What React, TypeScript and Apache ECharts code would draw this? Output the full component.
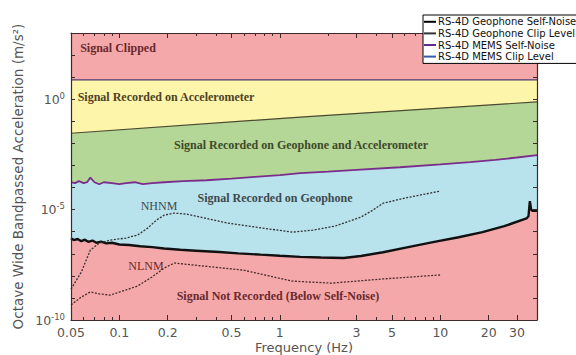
import React, { useEffect, useRef } from "react";
import * as echarts from "echarts";

// ---------- data (frequencies in Hz, levels as log10 of m/s^2) ----------
const geoNoiseFreq = [0.05, 0.052, 0.055, 0.058, 0.061, 0.064, 0.068, 0.072, 0.077, 0.083, 0.09, 0.1, 0.115, 0.135, 0.16, 0.19, 0.24, 0.3, 0.42, 0.55, 0.76, 1.0, 1.34, 1.8, 2.5, 3.2, 4.4, 6.3, 9.0, 13, 18.3, 25, 34.4, 35.4, 36.1, 36.8, 37.5, 40];
const geoNoiseLog10 = [-6.30, -6.38, -6.33, -6.43, -6.36, -6.46, -6.40, -6.50, -6.45, -6.53, -6.50, -6.58, -6.60, -6.66, -6.70, -6.76, -6.82, -6.86, -6.92, -6.98, -7.04, -7.09, -7.14, -7.17, -7.19, -7.10, -6.93, -6.70, -6.47, -6.25, -6.02, -5.75, -5.40, -5.30, -4.62, -5.0, -5.05, -5.05];

const geoClipFreq = [0.05, 1.34, 40];
const geoClipLog10 = [-1.54, -0.81, -0.12];

const memsNoiseFreq = [0.05, 0.053, 0.056, 0.06, 0.063, 0.066, 0.07, 0.075, 0.08, 0.09, 0.1, 0.11, 0.125, 0.14, 0.16, 0.19, 0.25, 0.35, 0.5, 0.7, 1.0, 1.34, 2.0, 3.0, 5.6, 10, 15.3, 22, 30, 40];
const memsNoiseLog10 = [-3.76, -3.80, -3.71, -3.80, -3.76, -3.55, -3.76, -3.85, -3.76, -3.80, -3.85, -3.80, -3.76, -3.85, -3.80, -3.76, -3.71, -3.67, -3.60, -3.52, -3.44, -3.35, -3.28, -3.20, -3.08, -2.95, -2.85, -2.75, -2.64, -2.53];

const memsClipFreq = [0.05, 40];
const memsClipLog10 = [0.88, 0.88];

const nhnmFreq = [0.05, 0.058, 0.066, 0.075, 0.088, 0.11, 0.13, 0.15, 0.17, 0.19, 0.22, 0.26, 0.32, 0.47, 0.7, 1.2, 1.6, 2.2, 3.2, 3.8, 4.4, 6.0, 10];
const nhnmLog10 = [-8.6, -7.83, -6.83, -6.52, -6.38, -6.29, -6.15, -5.84, -5.48, -5.25, -5.16, -5.20, -5.34, -5.61, -5.79, -6.02, -5.93, -5.75, -5.34, -5.02, -4.71, -4.48, -4.16];

const nlnmFreq = [0.05, 0.058, 0.066, 0.075, 0.088, 0.11, 0.13, 0.16, 0.19, 0.22, 0.29, 0.59, 1.2, 2.1, 4.4, 10];
const nlnmLog10 = [-9.32, -8.96, -8.73, -8.82, -8.87, -8.64, -8.46, -8.05, -7.65, -7.42, -7.51, -7.74, -8.24, -8.33, -8.14, -7.96];

const xTickLabels = [0.05, 0.1, 0.2, 0.5, 1, 3, 5, 10, 20, 30];
const xMinorTicks = [0.05, 0.06, 0.07, 0.08, 0.09, 0.1, 0.2, 0.3, 0.4, 0.5, 0.6, 0.7, 0.8, 0.9, 1, 2, 3, 4, 5, 6, 7, 8, 9, 10, 20, 30, 40];
const yLabelExponents = [-10, -5, 0];
const freqMin = 0.05;
const freqMax = 40;
const yMinExp = -10;
const yMaxExp = 3;

const legendNames = [
  "RS-4D Geophone Self-Noise",
  "RS-4D Geophone Clip Level",
  "RS-4D MEMS Self-Noise",
  "RS-4D MEMS Clip Level",
];

const COLORS = {
  clipped: "#F5A8AA",
  accel: "#FDF5AA",
  both: "#B4D696",
  geo: "#B8E2EC",
  below: "#F5A8AA",
};

const pts = (f: number[], v: number[]) => f.map((x, i) => [Math.log10(x), v[i]]);

export default function App() {
  const ref = useRef<HTMLDivElement>(null);
  useEffect(() => {
    if (!ref.current) return;
    const chart = echarts.init(ref.current, null, { renderer: "svg" });
    const sans = "DejaVu Sans";
    const serif = "Liberation Serif";
    const axisCol = "#3a2a2a";
    const lab = "#555";
    const xMin = Math.log10(freqMin);
    const xMax = Math.log10(freqMax);
    const xAxisBase = {
      type: "value",
      min: xMin,
      max: xMax,
      z: 5,
      splitLine: { show: false },
    };
    const lineNoZero = (show: boolean) => ({ show, onZero: false, lineStyle: { color: axisCol, width: 1.2 } });
    const fmtF = (v: number) => String(Number(Math.pow(10, v).toPrecision(2)));
    const option: any = {
      animation: false,
      grid: {
        left: 71,
        right: 39,
        top: 33,
        bottom: 35,
        show: true,
        backgroundColor: COLORS.clipped,
        borderWidth: 0,
        containLabel: false,
        outerBoundsMode: "none",
      },
      legend: {
        data: legendNames,
        orient: "vertical",
        left: 423,
        top: 15,
        z: 20,
        icon: "rect",
        itemWidth: 12,
        itemHeight: 2,
        itemGap: 0,
        padding: [1, 4, 1, 1],
        backgroundColor: "#fff",
        borderColor: "#000",
        borderWidth: 1,
        textStyle: { fontFamily: sans, fontSize: 10, color: "#111", lineHeight: 11.6, padding: [0, 0, 0, -3] },
      },
      xAxis: [
        {
          ...xAxisBase,
          position: "bottom",
          name: "Frequency (Hz)",
          nameLocation: "middle",
          nameGap: 21,
          nameMoveOverlap: false,
          nameTextStyle: { fontFamily: sans, fontSize: 13, color: lab },
          axisLine: lineNoZero(true),
          axisTick: { show: true, inside: true, length: 3, customValues: xMinorTicks.map(Math.log10), lineStyle: { color: axisCol } },
          axisLabel: {
            show: true,
            customValues: xTickLabels.map(Math.log10),
            formatter: fmtF,
            fontFamily: sans,
            fontSize: 12.5,
            color: lab,
            margin: 6,
            hideOverlap: false,
          },
        },
        {
          ...xAxisBase,
          position: "top",
          axisLine: lineNoZero(true),
          axisTick: { show: true, inside: true, length: 3, customValues: xMinorTicks.map(Math.log10), lineStyle: { color: axisCol } },
          axisLabel: { show: false },
        },
        {
          ...xAxisBase,
          position: "bottom",
          axisLine: lineNoZero(false),
          axisTick: { show: true, inside: true, length: 5, customValues: xTickLabels.map(Math.log10), lineStyle: { color: axisCol } },
          axisLabel: { show: false },
        },
        {
          ...xAxisBase,
          position: "top",
          axisLine: lineNoZero(false),
          axisTick: { show: true, inside: true, length: 5, customValues: xTickLabels.map(Math.log10), lineStyle: { color: axisCol } },
          axisLabel: { show: false },
        },
      ],
      yAxis: [
        {
          type: "value",
          min: yMinExp,
          max: yMaxExp,
          interval: 1,
          z: 5,
          position: "left",
          name: "Octave Wide Bandpassed Acceleration (m/s²)",
          nameLocation: "middle",
          nameRotate: 90,
          nameGap: 46,
          nameMoveOverlap: false,
          nameTextStyle: { fontFamily: sans, fontSize: 13.5, color: lab },
          splitLine: { show: false },
          axisLine: lineNoZero(true),
          axisTick: { show: true, inside: true, length: 4, lineStyle: { color: axisCol } },
          axisLabel: {
            margin: 6,
            formatter: (v: number) => (yLabelExponents.includes(v) ? `{b|10}{s|${v}}` : ""),
            rich: {
              b: { fontFamily: sans, fontSize: 12.5, color: lab, lineHeight: 16, verticalAlign: "middle" },
              s: { fontFamily: sans, fontSize: 8.5, color: lab, verticalAlign: "top", lineHeight: 10 },
            },
          },
        },
        {
          type: "value",
          min: yMinExp,
          max: yMaxExp,
          interval: 1,
          z: 5,
          position: "right",
          splitLine: { show: false },
          axisLine: lineNoZero(true),
          axisTick: { show: true, inside: true, length: 4, lineStyle: { color: axisCol } },
          axisLabel: { show: false },
        },
      ],
      series: [
        {
          name: legendNames[3],
          type: "line",
          data: pts(memsClipFreq, memsClipLog10),
          showSymbol: false,
          symbol: "none",
          lineStyle: { color: "#4a3a6e", width: 1.2 },
          itemStyle: { color: "#3a5aa8" },
          areaStyle: { color: COLORS.accel, opacity: 1, origin: "start" },
        },
        {
          name: legendNames[1],
          type: "line",
          data: pts(geoClipFreq, geoClipLog10),
          showSymbol: false,
          symbol: "none",
          lineStyle: { color: "#4a4a30", width: 1.2 },
          itemStyle: { color: "#333" },
          areaStyle: { color: COLORS.both, opacity: 1, origin: "start" },
        },
        {
          name: legendNames[2],
          type: "line",
          data: pts(memsNoiseFreq, memsNoiseLog10),
          showSymbol: false,
          symbol: "none",
          lineStyle: { color: "#7a2e8c", width: 1.8 },
          itemStyle: { color: "#5a3090" },
          areaStyle: { color: COLORS.geo, opacity: 1, origin: "start" },
        },
        {
          name: legendNames[0],
          type: "line",
          data: pts(geoNoiseFreq, geoNoiseLog10),
          showSymbol: false,
          symbol: "none",
          lineStyle: { color: "#111", width: 2.4 },
          itemStyle: { color: "#000" },
          areaStyle: { color: COLORS.below, opacity: 1, origin: "start" },
        },
        {
          name: "NHNM",
          type: "line",
          data: pts(nhnmFreq, nhnmLog10),
          showSymbol: false,
          symbol: "none",
          lineStyle: { color: "#333", width: 1.3, type: [2, 1.5] },
        },
        {
          name: "NLNM",
          type: "line",
          data: pts(nlnmFreq, nlnmLog10),
          showSymbol: false,
          symbol: "none",
          lineStyle: { color: "#4a2a2a", width: 1.3, type: [2, 1.5] },
        },
      ],
      graphic: [
        { type: "text", x: 118, y: 48, style: { text: "Signal Clipped", font: `bold 12px "${serif}"`, fill: "#6a2a2e", align: "center", verticalAlign: "middle" }, z: 10 },
        { type: "text", x: 166, y: 97, style: { text: "Signal Recorded on Accelerometer", font: `bold 12px "${serif}"`, fill: "#4e4226", align: "center", verticalAlign: "middle" }, z: 10 },
        { type: "text", x: 301, y: 145, style: { text: "Signal Recorded on Geophone and Accelerometer", font: `bold 12px "${serif}"`, fill: "#3e4a2a", align: "center", verticalAlign: "middle" }, z: 10 },
        { type: "text", x: 275, y: 198, style: { text: "Signal Recorded on Geophone", font: `bold 12px "${serif}"`, fill: "#3e4a4e", align: "center", verticalAlign: "middle" }, z: 10 },
        { type: "text", x: 159, y: 206, style: { text: "NHNM", font: `12px "${serif}"`, fill: "#3e4a4e", align: "center", verticalAlign: "middle" }, z: 10 },
        { type: "text", x: 146, y: 266, style: { text: "NLNM", font: `12px "${serif}"`, fill: "#6a2a2e", align: "center", verticalAlign: "middle" }, z: 10 },
        { type: "text", x: 278, y: 296, style: { text: "Signal Not Recorded (Below Self-Noise)", font: `bold 12px "${serif}"`, fill: "#6a2a2e", align: "center", verticalAlign: "middle" }, z: 10 },
      ],
    };
    chart.setOption(option);
    return () => chart.dispose();
  }, []);
  return <div ref={ref} style={{ width: 576, height: 355, position: "absolute", left: 0, top: 0 }} />;
}
